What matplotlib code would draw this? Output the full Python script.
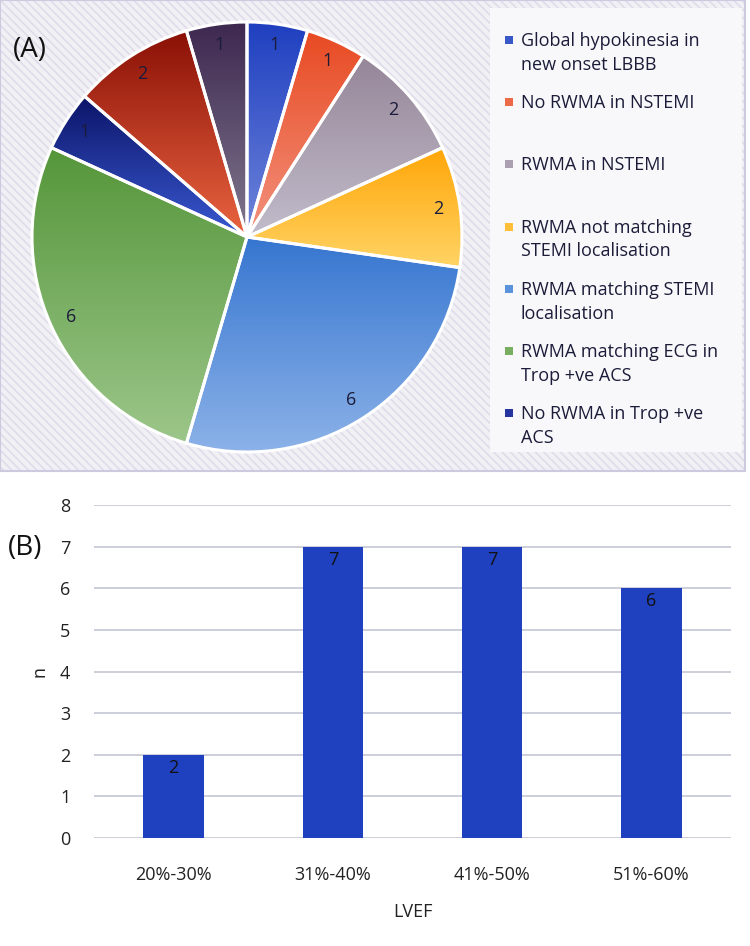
import numpy as np
import matplotlib.pyplot as plt
from matplotlib.colors import LinearSegmentedColormap
from matplotlib.patches import Rectangle

plt.rcParams['font.family'] = ['Open Sans', 'DejaVu Sans']
plt.rcParams['hatch.linewidth'] = 1.2

# (A) echo findings, clockwise from 12 o'clock
finding_labels = [
    'Global hypokinesia in\nnew onset LBBB',
    'No RWMA in NSTEMI',
    'RWMA in NSTEMI',
    'RWMA not matching\nSTEMI localisation',
    'RWMA matching STEMI\nlocalisation',
    'RWMA matching ECG in\nTrop +ve ACS',
    'No RWMA in Trop +ve\nACS',
    'Unlabelled 1',
    'Unlabelled 2',
]
finding_counts = [1, 1, 2, 2, 6, 6, 1, 2, 1]
n_legend = 7  # only the first seven entries appear in the legend

# slice gradient colours (top -> bottom)
grad_top = ['#1f3fc0', '#e84a22', '#958698', '#ffa608',
            '#3676d0', '#55963a', '#0c1468', '#8a1006', '#3e2850']
grad_bottom = ['#6f85da', '#f2927e', '#c2bccb', '#ffd466',
               '#8cb2e8', '#9cc68a', '#3a5ad2', '#ea6440', '#80788e']
legend_cols = ['#3a58c8', '#ec6a48', '#aaa0b2', '#ffbe38',
               '#5a92dc', '#78ae62', '#2434a0']

# (B) LVEF distribution
lvef_bins = ['20%-30%', '31%-40%', '41%-50%', '51%-60%']
lvef_counts = [2, 7, 7, 6]

W, H = 750, 946
fig = plt.figure(figsize=(W / 100, H / 100), dpi=100)


def fx(x):
    return x / W


def fy(y):
    return 1 - y / H


text_col = '#1c1c3a'

# top panel background with fine diagonal stripes
fig.patches.append(Rectangle((0, fy(471)), 745 / W, 471 / H, transform=fig.transFigure,
                             facecolor='#f1f0f5', edgecolor='#e0dce9', linewidth=0,
                             hatch='\\\\\\\\', zorder=-5))
fig.patches.append(Rectangle((0, fy(471)), 745 / W, 471 / H, transform=fig.transFigure,
                             facecolor='none', edgecolor='#cdc9de', linewidth=1.5, zorder=-4))
# legend box
fig.patches.append(Rectangle((fx(490), fy(452)), 252 / W, 444 / H, transform=fig.transFigure,
                             facecolor='#f8f8fa', edgecolor='none', zorder=-3))

# pie
ax_pie = fig.add_axes([fx(32), fy(452), 430 / W, 430 / H])
total = sum(finding_counts)
wedges, _, autotexts = ax_pie.pie(
    finding_counts, startangle=90, counterclock=False, colors=grad_top,
    autopct=lambda p: f'{round(p * total / 100)}', pctdistance=0.9,
    wedgeprops=dict(edgecolor='white', linewidth=2.2),
    textprops=dict(fontsize=13, color=text_col))
for w, c0, c1 in zip(wedges, grad_top, grad_bottom):
    ext = w.get_path().get_extents()
    cmap = LinearSegmentedColormap.from_list('g', [c0, c1])
    grad = np.linspace(0, 1, 256).reshape(-1, 1)
    im = ax_pie.imshow(grad, cmap=cmap, extent=[ext.x0, ext.x1, ext.y0, ext.y1],
                       aspect='auto', origin='upper', zorder=1)
    im.set_clip_path(w)
    w.set_facecolor('none')
    w.set_zorder(2)
for t in autotexts:
    t.set_zorder(4)
ax_pie.set_xlim(-1, 1)
ax_pie.set_ylim(-1, 1)
ax_pie.set_aspect('auto')
ax_pie.axis('off')

fig.text(fx(13), fy(50), '(A)', fontsize=20, color='#111111', va='center')

# legend (manual, to match the spacing of the original)
for i in range(n_legend):
    yc = 40 + 62.2 * i
    fig.patches.append(Rectangle((fx(505), fy(yc + 4)), 8 / W, 8 / H, transform=fig.transFigure,
                                 facecolor=legend_cols[i], edgecolor='none'))
    fig.text(fx(521), fy(yc - 8), finding_labels[i], fontsize=13, color=text_col,
             va='top', ha='left', linespacing=1.42)

# bar chart
ax = fig.add_axes([fx(94), fy(838), (731 - 94) / W, (838 - 505) / H])
x = np.arange(len(lvef_bins))
bars = ax.bar(x, lvef_counts, width=0.38, color='#1f40bf', zorder=3)
for xi, v in zip(x, lvef_counts):
    ax.annotate(str(v), (xi, v), xytext=(0, -3), textcoords='offset points',
                ha='center', va='top', fontsize=13, color='#111111', zorder=4)
ax.set_xlim(-0.5, len(lvef_bins) - 0.5)
ax.set_ylim(0, 8)
ax.set_yticks(range(0, 9))
ax.set_xticks(x)
ax.set_xticklabels(lvef_bins)
ax.grid(axis='y', color='#c8cad8', linewidth=1.3, zorder=0)
for s in ax.spines.values():
    s.set_visible(False)
ax.tick_params(length=0, labelsize=13, labelcolor='#222222')
ax.tick_params(axis='y', pad=17)
ax.tick_params(axis='x', pad=20)
ax.set_xlabel('LVEF', fontsize=13, color='#222222')
ax.xaxis.set_label_coords(0.5, -0.195)
ax.set_ylabel('n', fontsize=13, color='#222222')
ax.yaxis.set_label_coords(-0.072, 0.5)

fig.text(fx(8), fy(548), '(B)', fontsize=20, color='#111111', va='center')

fig.savefig('out.png', dpi=100)
